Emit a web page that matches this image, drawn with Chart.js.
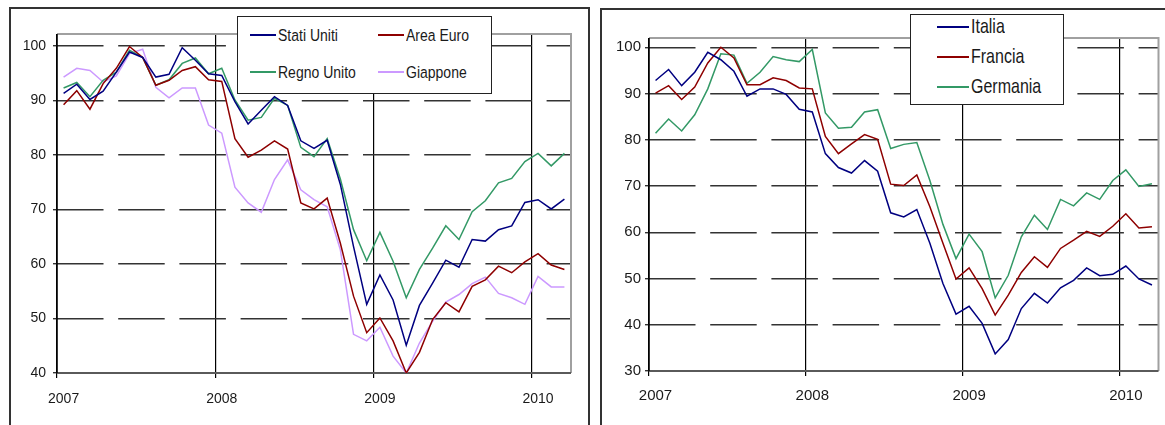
<!DOCTYPE html>
<html>
<head>
<meta charset="utf-8">
<script src="https://cdn.jsdelivr.net/npm/chart.js@4.4.0/dist/chart.umd.min.js"></script>
<style>
  body { margin: 0; background: #fff; width: 1165px; height: 425px; overflow: hidden; position: relative; font-family: 'Liberation Sans', Arial, sans-serif; }
  .panel { position: absolute; border: 2px solid #333; box-sizing: border-box; height: 440px; }
  .wrap { position: absolute; top: 0; height: 425px; }
  .legend { position: absolute; background: #fff; border: 1.5px solid #222; box-sizing: border-box; z-index: 5; }
  .legend .item { position: absolute; white-space: nowrap; color: #1a1a1a; transform: scaleY(1.22); transform-origin: left center; }
  .legend .swatch { position: absolute; height: 0; border-top: 2px solid; }
</style>
</head>
<body>
<div class="panel" style="left:9px; top:7px; width:581px;"></div>
<div class="panel" style="left:600px; top:8px; width:600px;"></div>
<div class="wrap" style="left:0; width:595px;"><canvas id="left_chart" width="595" height="425"></canvas></div>
<div class="wrap" style="left:595px; width:570px;"><canvas id="right_chart" width="570" height="425"></canvas></div>
<div class="legend" id="left_legend" style="left:237px; top:16px; width:255px; height:78px;"></div>
<div class="legend" id="right_legend" style="left:910px; top:14px; width:154px; height:91px;"></div>
<script>
// mesi da gen 2007 a mar 2010
const months = [];
for (let y = 2007; y <= 2010; y++) {
  for (let m = 1; m <= 12; m++) {
    if (y === 2010 && m > 3) break;
    months.push(y + '-' + String(m).padStart(2, '0'));
  }
}
const yearLabels = ['2007', '2008', '2009', '2010'];

// grafico sinistro
const statiUniti = [91.3, 93.0, 90.2, 91.7, 95.2, 98.9, 97.9, 94.3, 94.8, 99.7, 97.4, 94.9,
  94.6, 89.8, 85.7, 88.2, 90.7, 89.1, 82.6, 81.2, 82.7, 74.6, 63.2, 52.6,
  58.0, 53.4, 45.1, 52.4, 56.5, 60.7, 59.4, 64.5, 64.2, 66.3, 67.0, 71.3,
  71.8, 70.1, 71.9];
const areaEuro = [89.2, 91.8, 88.4, 93.1, 95.9, 99.9, 97.9, 92.8, 93.7, 95.5, 96.2, 93.8,
  93.5, 83.0, 79.6, 80.9, 82.6, 81.1, 71.2, 70.1, 72.1, 63.8, 54.1, 47.4,
  50.1, 45.9, 40.0, 43.8, 49.8, 52.9, 51.2, 55.9, 57.1, 59.6, 58.4, 60.4,
  61.9, 59.8, 59.0];
const regnoUnito = [92.3, 93.3, 90.7, 93.7, 95.2, 99.2, 97.9, 92.8, 93.8, 96.8, 97.8, 94.9,
  95.9, 90.1, 86.4, 86.9, 90.4, 89.1, 81.4, 79.7, 83.0, 75.6, 66.3, 60.6,
  65.8, 60.5, 53.8, 59.0, 62.9, 67.0, 64.5, 69.6, 71.6, 74.9, 75.7, 78.8,
  80.3, 78.0, 80.3];
const giappone = [94.3, 95.9, 95.5, 93.4, 94.5, 98.6, 99.4, 92.4, 90.5, 92.3, 92.3, 85.5,
  84.0, 74.1, 71.2, 69.5, 75.5, 79.1, 73.6, 71.8, 70.5, 62.6, 47.1, 45.9,
  48.4, 43.1, 40.0, 45.5, 49.5, 53.0, 54.4, 56.4, 57.6, 54.6, 53.8, 52.6,
  57.7, 55.8, 55.8];

// grafico destro
const italia = [92.8, 95.2, 91.7, 94.6, 98.9, 97.3, 94.8, 89.4, 91.0, 91.0, 89.8, 86.6,
  86.0, 77.0, 74.0, 72.8, 75.5, 73.2, 64.2, 63.3, 64.9, 57.6, 48.9, 42.3,
  44.0, 40.3, 33.7, 36.8, 43.5, 46.8, 44.7, 48.0, 49.6, 52.3, 50.6, 50.9,
  52.7, 49.9, 48.6];
const francia = [90.1, 91.7, 88.7, 91.4, 96.6, 100.0, 97.7, 91.9, 91.9, 93.4, 92.8, 91.2,
  91.0, 80.7, 77.0, 79.1, 81.1, 80.1, 70.4, 70.1, 72.4, 65.5, 57.6, 49.9,
  52.3, 47.8, 42.1, 46.4, 51.3, 54.7, 52.4, 56.5, 58.3, 60.2, 59.1, 61.3,
  64.0, 60.9, 61.2];
const germania = [81.4, 84.5, 81.9, 85.4, 91.0, 98.6, 98.3, 92.2, 94.6, 98.0, 97.3, 96.9,
  99.5, 85.8, 82.5, 82.7, 86.0, 86.5, 78.1, 79.0, 79.4, 71.2, 61.7, 54.3,
  59.6, 55.8, 45.8, 50.7, 59.0, 63.7, 60.6, 67.1, 65.7, 68.5, 67.1, 71.2,
  73.5, 69.9, 70.5];

const NAVY = '#000080', RED = '#8e0000', GREEN = '#339966', LILAC = '#cc99ff';

const framePlugin = {
  id: 'frame',
  beforeDatasetsDraw(chart) {
    const { ctx, chartArea: a } = chart;
    ctx.save();
    ctx.lineWidth = 2;
    ctx.strokeStyle = '#a0a0a0';
    ctx.beginPath();
    ctx.moveTo(a.left, a.top); ctx.lineTo(a.right, a.top); ctx.lineTo(a.right, a.bottom);
    ctx.stroke();
    ctx.strokeStyle = '#5a5a5a';
    ctx.beginPath();
    ctx.moveTo(a.left, a.bottom); ctx.lineTo(a.right, a.bottom);
    ctx.stroke();
    ctx.lineWidth = 1.5;
    ctx.strokeStyle = '#000';
    ctx.beginPath();
    ctx.moveTo(a.left, a.top); ctx.lineTo(a.left, a.bottom);
    ctx.stroke();
    ctx.restore();
  }
};

function makeChart(el, series, opts) {
  return new Chart(el, {
    type: 'line',
    data: {
      labels: months,
      datasets: series.map(s => ({
        label: s[0], data: s[1], borderColor: s[2], backgroundColor: s[2],
        borderWidth: 1.5, pointRadius: 0, tension: 0, fill: false
      }))
    },
    options: {
      responsive: false,
      animation: false,
      layout: { padding: opts.padding },
      plugins: { legend: { display: false }, tooltip: { enabled: false } },
      scales: {
        x: {
          type: 'category',
          offset: true,
          afterFit: s => { s.height = opts.xh; },
          grid: {
            offset: true,
            color: c => (c.index % 12 === 0 ? '#000' : 'rgba(0,0,0,0)'),
            lineWidth: 1.2,
            tickLength: 5
          },
          border: { display: false },
          ticks: {
            autoSkip: false, maxRotation: 0, padding: opts.xpad,
            color: '#1a1a1a',
            font: { family: 'Liberation Sans', size: opts.fs },
            callback: (v, i) => (i % 12 === 0 ? yearLabels[i / 12] : '')
          }
        },
        y: {
          min: opts.min, max: opts.max,
          afterFit: s => { s.width = opts.yw; },
          grid: {
            color: c => (c.tick && c.tick.value === opts.min ? 'rgba(0,0,0,0)' : '#333'),
            tickColor: '#333',
            lineWidth: 1.4,
            tickLength: 4
          },
          border: { display: false, dash: [46.5, 14.7] },
          ticks: {
            stepSize: 10, includeBounds: false, padding: opts.ypad,
            color: '#1a1a1a',
            font: { family: 'Liberation Sans', size: opts.fs }
          }
        }
      }
    },
    plugins: [framePlugin]
  });
}

function makeLegend(el, chart, cols, rows, sw, fs) {
  chart.data.datasets.forEach((d, i) => {
    const c = cols[i % cols.length], r = rows[Math.floor(i / cols.length)];
    const line = document.createElement('div');
    line.className = 'swatch';
    line.style.cssText = `left:${c[0]}px; width:${sw}px; top:${r - 1}px; border-color:${d.borderColor};`;
    const txt = document.createElement('div');
    txt.className = 'item';
    txt.style.cssText = `left:${c[0] + sw + 2}px; top:${r - fs * 0.6}px; font-size:${fs}px; line-height:${fs * 1.2}px;`;
    txt.textContent = d.label;
    el.appendChild(line);
    el.appendChild(txt);
  });
}

const leftChart = makeChart(document.getElementById('left_chart'), [
  ['Stati Uniti', statiUniti, NAVY],
  ['Area Euro', areaEuro, RED],
  ['Regno Unito', regnoUnito, GREEN],
  ['Giappone', giappone, LILAC]
], { padding: { top: 34, right: 24, left: 0, bottom: 0 }, xh: 52, yw: 57, min: 40, max: 102.2, fs: 14, xpad: 13, ypad: 7 });

const rightChart = makeChart(document.getElementById('right_chart'), [
  ['Italia', italia, NAVY],
  ['Francia', francia, RED],
  ['Germania', germania, GREEN]
], { padding: { top: 38, right: 6.5, left: 0, bottom: 0 }, xh: 54, yw: 54, min: 30, max: 102, fs: 15, xpad: 11, ypad: 4 });

// legende (coordinate relative al riquadro)
makeLegend(document.getElementById('left_legend'), leftChart, [[12], [140]], [18, 55], 26, 14);
makeLegend(document.getElementById('right_legend'), rightChart, [[26]], [12, 42, 72], 32, 16);
</script>
</body>
</html>
